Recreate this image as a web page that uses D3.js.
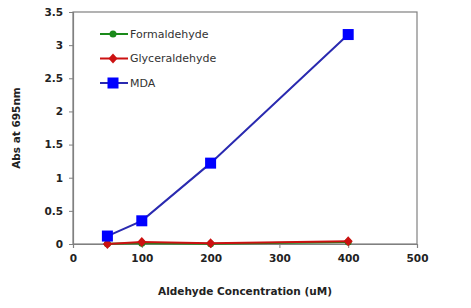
<!DOCTYPE html>
<html>
<head>
<meta charset="utf-8">
<script src="https://cdn.jsdelivr.net/npm/d3@7"></script>
<style>
body { margin: 0; background: #fff; }
text { font-family: "DejaVu Sans", Verdana, sans-serif; }
</style>
</head>
<body>
<svg></svg>
<script>
const concentrations = [50, 100, 200, 400];
const formaldehyde = [0.005, 0.01, 0.005, 0.03];
const glyceraldehyde = [0.0, 0.03, 0.01, 0.04];
const mda = [0.12, 0.35, 1.22, 3.16];
const xTicks = [0, 100, 200, 300, 400, 500];
const yTicks = [0, 0.5, 1, 1.5, 2, 2.5, 3, 3.5];

const series = [
	{ name: 'Formaldehyde', values: formaldehyde, color: '#1a8a1a', line: '#1a8a1a', shape: 'circle' },
	{ name: 'Glyceraldehyde', values: glyceraldehyde, color: '#cc1111', line: '#cc1111', shape: 'diamond' },
	{ name: 'MDA', values: mda, color: '#0000ff', line: '#2a2ab0', shape: 'square' }
];

const width = 471;
const height = 308;
const margin = { top: 12, right: 54, bottom: 64, left: 73 };
const innerWidth = width - margin.left - margin.right;
const innerHeight = height - margin.top - margin.bottom;

const svg = d3.select('svg')
	.attr('width', width)
	.attr('height', height);

const g = svg.append('g')
	.attr('transform', `translate(${margin.left},${margin.top})`);

const xScale = d3.scaleLinear().domain([0, 500]).range([0, innerWidth]);
const yScale = d3.scaleLinear().domain([0, 3.5]).range([innerHeight, 0]);

// frame
g.append('rect')
	.attr('width', innerWidth)
	.attr('height', innerHeight)
	.attr('fill', 'none')
	.attr('stroke', '#808080')
	.attr('stroke-width', 1.2);

const xAxis = d3.axisBottom(xScale).tickValues(xTicks).tickSize(4).tickPadding(7);
const yAxis = d3.axisLeft(yScale).tickValues(yTicks).tickSize(4).tickPadding(6)
	.tickFormat(d => d);

const xAxisG = g.append('g')
	.attr('transform', `translate(0,${innerHeight})`)
	.call(xAxis);
const yAxisG = g.append('g').call(yAxis);

[xAxisG, yAxisG].forEach(a => {
	a.select('.domain').attr('stroke', '#808080').attr('stroke-width', 1.2);
	a.selectAll('.tick line').attr('stroke', '#808080');
	a.selectAll('.tick text')
		.attr('font-size', 10.5)
		.attr('font-weight', 'bold')
		.attr('fill', '#222')
		.style('font-family', '"DejaVu Sans", sans-serif');
});

svg.append('text')
	.attr('x', margin.left + innerWidth / 2)
	.attr('y', 295)
	.attr('text-anchor', 'middle')
	.attr('font-size', 10.5)
	.attr('font-weight', 'bold')
	.attr('fill', '#222')
	.text('Aldehyde Concentration (uM)');

svg.append('text')
	.attr('transform', `translate(20,${margin.top + innerHeight / 2}) rotate(-90)`)
	.attr('text-anchor', 'middle')
	.attr('font-size', 10.5)
	.attr('font-weight', 'bold')
	.attr('fill', '#222')
	.text('Abs at 695nm');

const line = d3.line()
	.x((d, i) => xScale(concentrations[i]))
	.y(d => yScale(d));

function drawMarker(sel, shape, color) {
	if (shape === 'circle') {
		sel.append('circle').attr('r', 3.5).attr('fill', color);
	} else if (shape === 'diamond') {
		sel.append('path').attr('d', 'M0,-5L4.5,0L0,5L-4.5,0Z').attr('fill', color);
	} else {
		sel.append('rect').attr('x', -5.5).attr('y', -5.5).attr('width', 11).attr('height', 11).attr('fill', color);
	}
}

series.forEach(s => {
	g.append('path')
		.datum(s.values)
		.attr('fill', 'none')
		.attr('stroke', s.line)
		.attr('stroke-width', 2)
		.attr('d', line);
});
series.forEach(s => {
	g.selectAll(null)
		.data(s.values)
		.enter()
		.append('g')
			.attr('transform', (d, i) => `translate(${xScale(concentrations[i])},${yScale(d)})`)
			.each(function() { drawMarker(d3.select(this), s.shape, s.color); });
});

// legend
const legend = svg.append('g').attr('transform', 'translate(100,34)');
series.forEach((s, i) => {
	const row = legend.append('g').attr('transform', `translate(0,${i * 24.5})`);
	row.append('line')
		.attr('x1', 0).attr('x2', 28)
		.attr('stroke', s.line)
		.attr('stroke-width', 2);
	drawMarker(row.append('g').attr('transform', 'translate(13,0)'), s.shape, s.color);
	row.append('text')
		.attr('x', 30)
		.attr('dy', '0.35em')
		.attr('font-size', 11)
		.attr('fill', '#333')
		.text(s.name);
});
</script>
</body>
</html>
